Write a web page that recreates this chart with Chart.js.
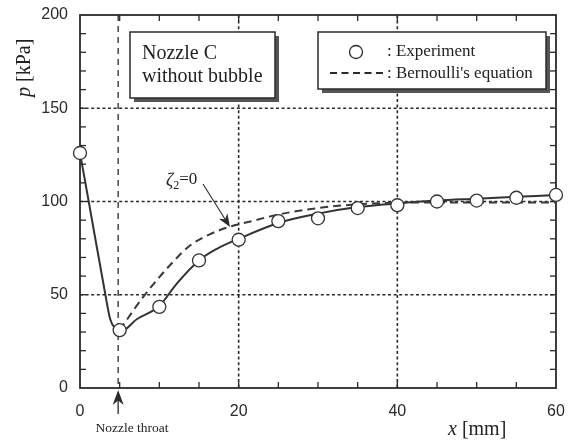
<!DOCTYPE html>
<html>
<head>
<meta charset="utf-8">
<script src="https://cdn.jsdelivr.net/npm/chart.js@4/dist/chart.umd.min.js"></script>
<style>
  html, body { margin: 0; padding: 0; background: #fff; }
  #wrap { width: 571px; height: 441px; }
</style>
</head>
<body>
<div id="wrap"><canvas id="c" width="571" height="441"></canvas></div>
<script>
// Measured wall pressure along nozzle C (x in mm, p in kPa)
const xExp = [0, 5, 10, 15, 20, 25, 30, 35, 40, 45, 50, 55, 60];
const pExp = [126, 31, 43.5, 68.4, 79.5, 89.5, 91, 96.5, 98, 100, 100.5, 102, 103.5];

// Solid curve through the measured pressures
const xFit = [0, 1.1, 3.2, 3.8, 4.4, 5, 7.2, 10, 12.2, 15, 17.2, 20, 25, 30, 35, 40, 45, 50, 55, 60];
const pFit = [126, 100, 50, 37, 32, 30, 37, 44, 56, 68.4, 74.5, 80, 88.5, 93.5, 97, 99, 100.5, 101.5, 102.5, 103.5];

// Bernoulli's equation (zeta2 = 0), downstream of the throat
const xBern = [5, 8, 11.6, 13.9, 16.4, 18.9, 21.2, 25, 30, 35, 40, 45, 50, 55, 60];
const pBern = [31, 49, 67, 76.5, 82.5, 86.5, 89, 93, 96.5, 98.5, 99.3, 99.5, 99.5, 99.5, 99.5];

const xTickStep = 20, yTickStep = 50;
const throatX = 5;

const INK = '#2b2b2b';
const SERIF = '"Liberation Serif", "Times New Roman", serif';
const SANS = '"Liberation Sans", Arial, sans-serif';

const pts = (xs, ys) => xs.map((v, i) => ({ x: v, y: ys[i] }));

function seg(ctx, x1, y1, x2, y2) {
  ctx.beginPath(); ctx.moveTo(x1, y1); ctx.lineTo(x2, y2); ctx.stroke();
}

// Filled arrowhead with a concave back, tip at (tx, ty) pointing along angle
function arrowHead(ctx, tx, ty, ang, len, half) {
  ctx.save();
  ctx.translate(tx, ty); ctx.rotate(ang);
  ctx.beginPath();
  ctx.moveTo(0, 0);
  ctx.lineTo(-len, -half);
  ctx.lineTo(-len * 0.7, 0);
  ctx.lineTo(-len, half);
  ctx.closePath();
  ctx.fill();
  ctx.restore();
}

function shadowBox(ctx, x, y, w, h) {
  ctx.fillStyle = '#555';
  ctx.fillRect(x + 4, y + 4, w, h);
  ctx.fillStyle = '#fff';
  ctx.fillRect(x, y, w, h);
  ctx.strokeStyle = INK; ctx.lineWidth = 1.5;
  ctx.strokeRect(x, y, w, h);
}

// Grid, throat marker, inward ticks and frame
const framePlugin = {
  id: 'framePlugin',
  beforeDatasetsDraw(chart) {
    const { ctx, chartArea: a, scales: { x, y } } = chart;
    ctx.save();
    ctx.strokeStyle = INK;

    ctx.lineWidth = 1.6; ctx.setLineDash([3, 2.6]);
    for (let v = yTickStep; v < y.max; v += yTickStep) {
      const py = y.getPixelForValue(v);
      seg(ctx, a.left, py, a.right, py);
    }
    for (let v = xTickStep; v < x.max; v += xTickStep) {
      const px = x.getPixelForValue(v);
      seg(ctx, px, a.top, px, a.bottom);
    }

    ctx.lineWidth = 1.3; ctx.setLineDash([6, 5]);
    const tx = x.getPixelForValue(throatX) - 1.5;
    seg(ctx, tx, a.top, tx, a.bottom);
    ctx.setLineDash([]);

    ctx.lineWidth = 1.3;
    for (let v = 5; v < x.max; v += 5) {
      const px = x.getPixelForValue(v);
      seg(ctx, px, a.bottom, px, a.bottom - 6);
      seg(ctx, px, a.top, px, a.top + 6);
    }
    for (let v = 10; v < y.max; v += 10) {
      const py = y.getPixelForValue(v);
      seg(ctx, a.left, py, a.left + 6, py);
      seg(ctx, a.right, py, a.right - 6, py);
    }

    ctx.lineWidth = 1.8;
    ctx.strokeRect(a.left, a.top, a.right - a.left, a.bottom - a.top);
    ctx.restore();
  },
  afterDraw(chart) {
    const { ctx, scales: { x } } = chart;
    ctx.save();
    ctx.textBaseline = 'middle';

    // Case box
    shadowBox(ctx, 130, 32, 145, 66);
    ctx.fillStyle = '#222';
    ctx.font = '20px ' + SERIF;
    ctx.textAlign = 'left';
    ctx.fillText('Nozzle C', 142, 54);
    ctx.fillText('without bubble', 142, 77);

    // Legend box
    shadowBox(ctx, 318, 32, 228, 57);
    ctx.strokeStyle = INK; ctx.lineWidth = 1.3;
    ctx.beginPath(); ctx.arc(356, 52, 6.5, 0, Math.PI * 2);
    ctx.fillStyle = '#fff'; ctx.fill(); ctx.stroke();
    ctx.lineWidth = 2; ctx.setLineDash([7, 4.5]);
    seg(ctx, 330, 73, 383, 73);
    ctx.setLineDash([]);
    ctx.fillStyle = '#222';
    ctx.font = '17px ' + SERIF;
    ctx.fillText(': Experiment', 387, 52);
    ctx.fillText(": Bernoulli's equation", 387, 74);

    // zeta2 = 0 label and arrow
    ctx.font = 'italic 18px ' + SERIF;
    ctx.fillText('\u03b6', 166, 181);
    const w = ctx.measureText('\u03b6').width;
    ctx.font = '12px ' + SERIF;
    ctx.fillText('2', 166 + w, 186);
    const w2 = ctx.measureText('2').width;
    ctx.font = '17px ' + SERIF;
    ctx.fillText('=0', 166 + w + w2, 180);
    ctx.strokeStyle = INK; ctx.lineWidth = 1.1;
    const ax0 = 203, ay0 = 184, ax1 = 230, ay1 = 227;
    const ang = Math.atan2(ay1 - ay0, ax1 - ax0);
    seg(ctx, ax0, ay0, ax1 - 8 * Math.cos(ang), ay1 - 8 * Math.sin(ang));
    ctx.fillStyle = INK;
    arrowHead(ctx, ax1, ay1, ang, 13, 5);

    // Throat marker below the axis
    const tx = x.getPixelForValue(throatX) - 1.5;
    ctx.lineWidth = 1.3;
    seg(ctx, tx, 414, tx, 398);
    arrowHead(ctx, tx, 390, -Math.PI / 2, 15, 5.5);
    ctx.fillStyle = '#222';
    ctx.font = '13.5px ' + SERIF;
    ctx.textAlign = 'center';
    ctx.fillText('Nozzle throat', 132, 428);

    // Axis titles
    ctx.textAlign = 'left';
    ctx.font = 'italic 20px ' + SERIF;
    const xs = 448;
    ctx.fillText('x', xs, 430);
    const wx = ctx.measureText('x ').width;
    ctx.font = '20px ' + SERIF;
    ctx.fillText('[mm]', xs + wx, 430);

    ctx.save();
    ctx.translate(25, 97);
    ctx.rotate(-Math.PI / 2);
    ctx.font = 'italic 20px ' + SERIF;
    ctx.fillText('p', 0, 0);
    const wp = ctx.measureText('p ').width;
    ctx.font = '20px ' + SERIF;
    ctx.fillText('[kPa]', wp, 0);
    ctx.restore();

    ctx.restore();
  }
};

new Chart(document.getElementById('c'), {
  type: 'scatter',
  data: {
    datasets: [
      {
        label: 'Fit',
        data: pts(xFit, pFit),
        showLine: true,
        borderColor: '#333',
        borderWidth: 2,
        pointRadius: 0,
        cubicInterpolationMode: 'monotone',
        order: 3
      },
      {
        label: "Bernoulli's equation",
        data: pts(xBern, pBern),
        showLine: true,
        borderColor: '#3a3a3a',
        borderWidth: 2,
        borderDash: [8, 5],
        pointRadius: 0,
        cubicInterpolationMode: 'monotone',
        order: 2
      },
      {
        label: 'Experiment',
        data: pts(xExp, pExp),
        showLine: false,
        pointRadius: 6.5,
        pointBorderWidth: 1.3,
        pointBackgroundColor: '#fff',
        pointBorderColor: '#333',
        order: 1
      }
    ]
  },
  options: {
    responsive: false,
    animation: false,
    clip: false,
    layout: { padding: { top: 15, right: 15, left: 0, bottom: 0 } },
    plugins: { legend: { display: false }, tooltip: { enabled: false } },
    scales: {
      x: {
        type: 'linear', min: 0, max: 60,
        grid: { display: false, drawTicks: false },
        border: { display: false },
        ticks: { stepSize: xTickStep, padding: 14, color: '#2a2a2a', font: { family: SANS, size: 16 } },
        afterFit(s) { s.height = 53; s.paddingLeft = 0; s.paddingRight = 0; }
      },
      y: {
        type: 'linear', min: 0, max: 200,
        grid: { display: false, drawTicks: false },
        border: { display: false },
        ticks: { stepSize: yTickStep, padding: 12, color: '#2a2a2a', font: { family: SANS, size: 16 } },
        afterFit(s) { s.width = 80; s.paddingTop = 0; s.paddingBottom = 0; }
      }
    }
  },
  plugins: [framePlugin]
});
</script>
</body>
</html>
